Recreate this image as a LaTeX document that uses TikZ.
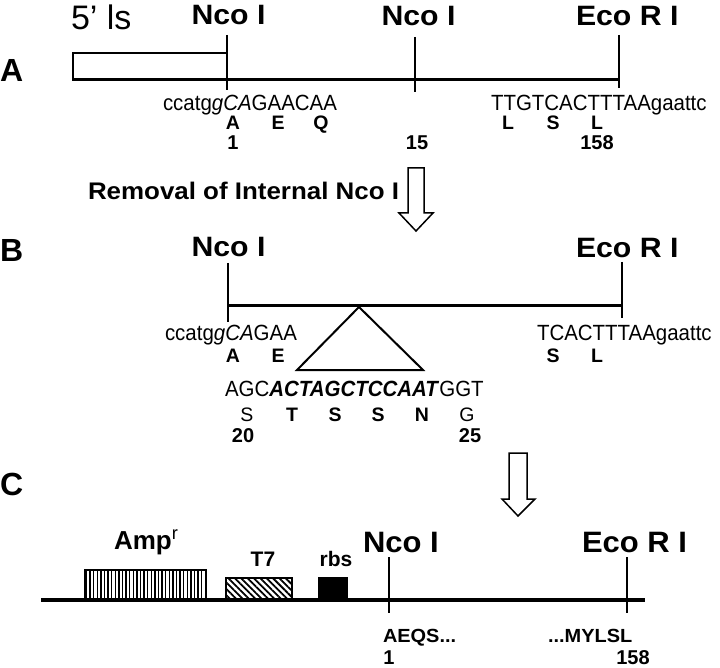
\documentclass[tikz,border=0pt]{standalone}
\usepackage{fontspec}
\setmainfont{Liberation Sans}
\newfontfamily\fHead[FakeStretch=1.08]{Liberation Sans}
\newfontfamily\fSeq[FakeStretch=0.93]{Liberation Sans}
\newfontfamily\fWide[FakeStretch=1.05]{Liberation Sans}
\usetikzlibrary{patterns.meta}
\begin{document}
\begin{tikzpicture}[x=1pt,y=-1pt,
  txt/.style={inner sep=0pt, outer sep=0pt},
  panel/.style={txt, anchor=base west, font=\bfseries\fontsize{32}{34}\selectfont},
  site/.style={txt, font=\fHead\bfseries\fontsize{28}{30}\selectfont},
  siteC/.style={txt, anchor=base west, font=\fWide\bfseries\fontsize{29.5}{31}\selectfont},
  seq/.style={txt, anchor=base west, font=\fSeq\fontsize{22}{24}\selectfont},
  aa/.style={txt, anchor=base, font=\bfseries\fontsize{19.5}{21}\selectfont},
  aar/.style={txt, anchor=base, font=\fontsize{19.5}{21}\selectfont},
  num/.style={txt, anchor=base, font=\bfseries\fontsize{20}{22}\selectfont},
  aaC/.style={txt, anchor=base west, font=\fWide\bfseries\fontsize{19}{21}\selectfont},
  dna/.style={line width=3pt},
  dnaC/.style={line width=4pt},
  tick/.style={line width=1.5pt},
  bigarrow/.style={draw, fill=white, line width=1.5pt, line join=miter},
]
\useasboundingbox (0,0) rectangle (720,668);

% ---------------- Panel A ----------------
\node[panel] (labA) at (0,82) {A};
\node[txt, anchor=base west, font=\fontsize{34}{36}\selectfont] (ls) at (71,30) {5’ ls};
\draw[line width=1.5pt] (73,80) rectangle (227,53);
\draw[dna] (73,80) -- (619,80);
\coordinate (a1t) at (227,35); \coordinate (a1b) at (227,90);
\coordinate (a2t) at (415,37); \coordinate (a2b) at (415,92);
\coordinate (a3t) at (619,35); \coordinate (a3b) at (619,88);
\draw[tick] (a1t) -- (a1b);
\draw[tick] (a2t) -- (a2b);
\draw[tick] (a3t) -- (a3b);
\node[site, anchor=base] (ncoA1) at (228.5,25) {Nco I};
\node[site, anchor=base] (ncoA2) at (418.5,26) {Nco I};
\node[site, anchor=base west] (ecoA) at (576,26) {Eco R I};
\node[seq] (seqA1) at (163,111) {ccatg\textit{gCA}GAACAA};
\node[seq] (seqA2) at (491,111) {TTGTCACTTTAAgaattc};
\node[aa] (aA1) at (233,130) {A};
\node[aa] (aA2) at (278,130) {E};
\node[aa] (aA3) at (321,130) {Q};
\node[aa] (aA4) at (508,130) {L};
\node[aa] (aA5) at (553,130) {S};
\node[aa] (aA6) at (597,130) {L};
\node[num] (nA1) at (233,150) {1};
\node[num] (nA2) at (417,150) {15};
\node[num] (nA3) at (597,150) {158};

% arrow 1
\node[txt, anchor=base west, font=\fHead\bfseries\fontsize{24}{26}\selectfont] (removal) at (88,200) {Removal of Internal Nco I};
\draw[bigarrow] (408,168) -- (424,168) -- (424,213) -- (433,213) -- (416,231) -- (399,213) -- (408,213) -- cycle;

% ---------------- Panel B ----------------
\node[panel] (labB) at (0,262) {B};
\coordinate (b1t) at (228,263); \coordinate (b1b) at (228,322);
\coordinate (b2t) at (622,262); \coordinate (b2b) at (622,318);
\draw[dna] (228,306) -- (622,306);
\draw[tick] (b1t) -- (b1b);
\draw[tick] (b2t) -- (b2b);
\node[site, anchor=base] (ncoB) at (228.5,257) {Nco I};
\node[site, anchor=base west] (ecoB) at (576,258) {Eco R I};
\node[seq] (seqB1) at (165,340) {ccatg\textit{gCA}GAA};
\node[seq] (seqB2) at (537,340) {TCACTTTAAgaattc};
\node[aa] (aB1) at (233,362) {A};
\node[aa] (aB2) at (278,362) {E};
\node[aa] (aB3) at (553,362) {S};
\node[aa] (aB4) at (597,362) {L};
\draw[line width=2pt, line join=miter] (359,307) -- (423,370) -- (297,370) -- cycle;
\node[seq] (seqIns) at (225,396) {AGC\textbf{\textit{ACTAGCTCCAAT}}GGT};
\node[aar] (iS1) at (247,421) {S};
\node[aa] (iT) at (292,421) {T};
\node[aa] (iS2) at (335,421) {S};
\node[aa] (iS3) at (378,421) {S};
\node[aa] (iN) at (422,421) {N};
\node[aar] (iG) at (467,421) {G};
\node[num] (n20) at (243,442) {20};
\node[num] (n25) at (470,442) {25};

% arrow 2
\draw[bigarrow] (509,453) -- (527,453) -- (527,499) -- (535,499) -- (518,516) -- (502,499) -- (509,499) -- cycle;

% ---------------- Panel C ----------------
\node[panel] (labC) at (0,495) {C};
\draw[dnaC] (41,600) -- (645,600);
\draw[line width=1.3pt, pattern={Lines[angle=90,distance=3.6pt,line width=1.4pt]}] (85,599) rectangle (206,570);
\draw[line width=1.3pt, pattern={Lines[angle=-45,distance=4.5pt,line width=1.8pt]}] (226,599) rectangle (292,578);
\draw[line width=1.3pt, fill=black] (319,599) rectangle (347,578);
\node[txt, anchor=base west, font=\bfseries\fontsize{26}{28}\selectfont] (amp) at (114,549) {Amp\textsuperscript{\mdseries r}};
\node[txt, anchor=base, font=\bfseries\fontsize{21}{23}\selectfont] (t7) at (263,566) {T7};
\node[txt, anchor=base, font=\bfseries\fontsize{21}{23}\selectfont] (rbs) at (336,566) {rbs};
\coordinate (c1t) at (389,557); \coordinate (c1b) at (389,613);
\coordinate (c2t) at (627,557); \coordinate (c2b) at (627,613);
\draw[tick] (c1t) -- (c1b);
\draw[tick] (c2t) -- (c2b);
\node[siteC] (ncoC) at (363,552) {Nco I};
\node[siteC] (ecoC) at (582,552) {Eco R I};
\node[aaC] (aeqs) at (383,642) {AEQS...};
\node[aaC] (mylsl) at (548,642) {...MYLSL};
\node[num] (nC1) at (389,664) {1};
\node[num] (nC2) at (633,664) {158};
\end{tikzpicture}
\end{document}
